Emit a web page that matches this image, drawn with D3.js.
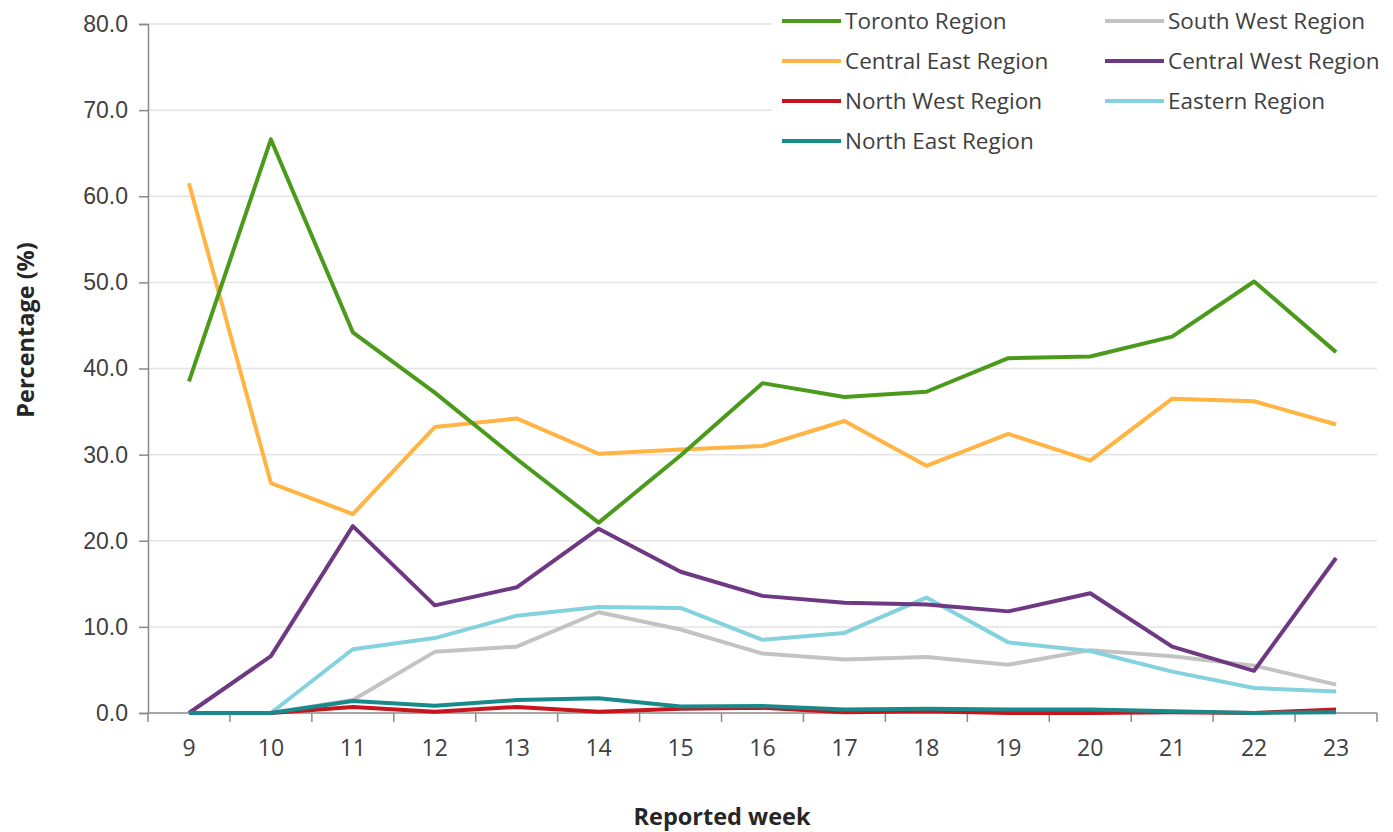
<!DOCTYPE html>
<html>
<head>
<meta charset="utf-8">
<script src="https://cdn.jsdelivr.net/npm/d3@7"></script>
<style>
  body { margin: 0; background: #fff; }
  svg { display: block; font-family: "Open Sans", sans-serif; }
</style>
</head>
<body>
<div id="chart"></div>
<script>
const weeks = ["9", "10", "11", "12", "13", "14", "15", "16", "17", "18", "19", "20", "21", "22", "23"];
const yTicks = [0, 10, 20, 30, 40, 50, 60, 70, 80];

const toronto = [38.5, 66.6, 44.2, 37.2, 29.5, 22.1, 29.9, 38.3, 36.7, 37.3, 41.2, 41.4, 43.7, 50.1, 41.9];
const centralEast = [61.5, 26.7, 23.1, 33.2, 34.2, 30.1, 30.6, 31.0, 33.9, 28.7, 32.4, 29.3, 36.5, 36.2, 33.5];
const northWest = [0, 0, 0.7, 0.15, 0.7, 0.15, 0.5, 0.6, 0.1, 0.2, 0, 0, 0.1, 0, 0.4];
const northEast = [0, 0, 1.4, 0.85, 1.5, 1.7, 0.75, 0.8, 0.4, 0.5, 0.4, 0.4, 0.2, 0, 0.1];
const southWest = [0, 0, 1.5, 7.1, 7.7, 11.7, 9.7, 6.9, 6.2, 6.5, 5.6, 7.3, 6.6, 5.5, 3.3];
const centralWest = [0, 6.6, 21.7, 12.5, 14.6, 21.4, 16.4, 13.6, 12.8, 12.6, 11.8, 13.9, 7.7, 4.9, 18.0];
const eastern = [0, 0, 7.4, 8.7, 11.3, 12.3, 12.2, 8.5, 9.3, 13.4, 8.2, 7.2, 4.8, 2.9, 2.5];

const series = [
  { name: "Toronto Region", values: toronto, color: "#4b9a1c" },
  { name: "Central East Region", values: centralEast, color: "#ffb444" },
  { name: "North West Region", values: northWest, color: "#c8141c" },
  { name: "North East Region", values: northEast, color: "#198a8b" },
  { name: "South West Region", values: southWest, color: "#c3c3c3" },
  { name: "Central West Region", values: centralWest, color: "#6e3882" },
  { name: "Eastern Region", values: eastern, color: "#84d2de" }
];
// draw order (back to front)
const drawOrder = ["South West Region", "Eastern Region", "Central West Region", "Central East Region",
  "Toronto Region", "North West Region", "North East Region"];

const width = 1393, height = 832;
const margin = { top: 24, right: 16, bottom: 119, left: 148 };

const svg = d3.select("#chart").append("svg")
  .attr("width", width)
  .attr("height", height);

const x = d3.scaleBand()
  .domain(weeks)
  .range([margin.left, width - margin.right]);

const y = d3.scaleLinear()
  .domain([0, 80])
  .range([height - margin.bottom, margin.top]);

// gridlines
svg.append("g")
  .selectAll("line")
  .data(yTicks.filter(d => d > 0))
  .join("line")
  .attr("x1", margin.left)
  .attr("x2", width - margin.right)
  .attr("y1", d => y(d))
  .attr("y2", d => y(d))
  .attr("stroke", "#e3e3e3")
  .attr("stroke-width", 1.5);

// y axis
const yAxis = svg.append("g")
  .attr("transform", `translate(${margin.left},0)`)
  .call(d3.axisLeft(y).tickValues(yTicks).tickFormat(d3.format(".1f")).tickSize(9).tickPadding(11));
yAxis.selectAll("text").style("font-size", "23px").attr("fill", "#404040");
yAxis.selectAll("line, path").attr("stroke", "#8a8a8a").attr("stroke-width", 1.5);

// x axis: ticks between categories
const xAxis = svg.append("g")
  .attr("transform", `translate(0,${y(0)})`);
xAxis.append("line")
  .attr("x1", margin.left).attr("x2", width - margin.right)
  .attr("stroke", "#8a8a8a").attr("stroke-width", 1.5);
const bounds = weeks.map(w => x(w)).concat([x(weeks[weeks.length - 1]) + x.bandwidth()]);
xAxis.selectAll("line.tick")
  .data(bounds)
  .join("line")
  .attr("class", "tick")
  .attr("x1", d => d).attr("x2", d => d)
  .attr("y1", 0).attr("y2", 9)
  .attr("stroke", "#8a8a8a").attr("stroke-width", 1.5);
xAxis.selectAll("text")
  .data(weeks)
  .join("text")
  .attr("x", d => x(d) + x.bandwidth() / 2)
  .attr("y", 43)
  .attr("text-anchor", "middle")
  .attr("fill", "#404040")
  .style("font-size", "23px")
  .text(d => d);

// axis titles
svg.append("text")
  .attr("transform", "translate(34,330) rotate(-90)")
  .attr("text-anchor", "middle")
  .style("font-size", "23.5px")
  .style("font-weight", "bold")
  .attr("fill", "#262626")
  .text("Percentage (%)");

svg.append("text")
  .attr("x", 722)
  .attr("y", 825)
  .attr("text-anchor", "middle")
  .style("font-size", "23.5px")
  .style("font-weight", "bold")
  .attr("fill", "#262626")
  .text("Reported week");

// lines
const line = d3.line()
  .x((d, i) => x(weeks[i]) + x.bandwidth() / 2)
  .y(d => y(d));

svg.append("g")
  .selectAll("path")
  .data(drawOrder.map(n => series.find(s => s.name === n)))
  .join("path")
  .attr("d", d => line(d.values))
  .attr("fill", "none")
  .attr("stroke", d => d.color)
  .attr("stroke-width", 4)
  .attr("stroke-linejoin", "round");

// legend
const legend = svg.append("g");
legend.append("rect")
  .attr("x", 772).attr("y", 0)
  .attr("width", width - 772).attr("height", 160)
  .attr("fill", "#fff");

const legendCols = [782, 1105];
const item = legend.selectAll("g.item")
  .data(series)
  .join("g")
  .attr("class", "item")
  .attr("transform", (d, i) => {
    const col = i < 4 ? 0 : 1;
    const row = i < 4 ? i : i - 4;
    return `translate(${legendCols[col]},${21 + row * 40})`;
  });
item.append("line")
  .attr("x1", 0).attr("x2", 59)
  .attr("stroke", d => d.color)
  .attr("stroke-width", 4);
item.append("text")
  .attr("x", 63)
  .attr("dy", "0.35em")
  .style("font-size", "22.5px")
  .attr("fill", "#404040")
  .text(d => d.name);
</script>
</body>
</html>
